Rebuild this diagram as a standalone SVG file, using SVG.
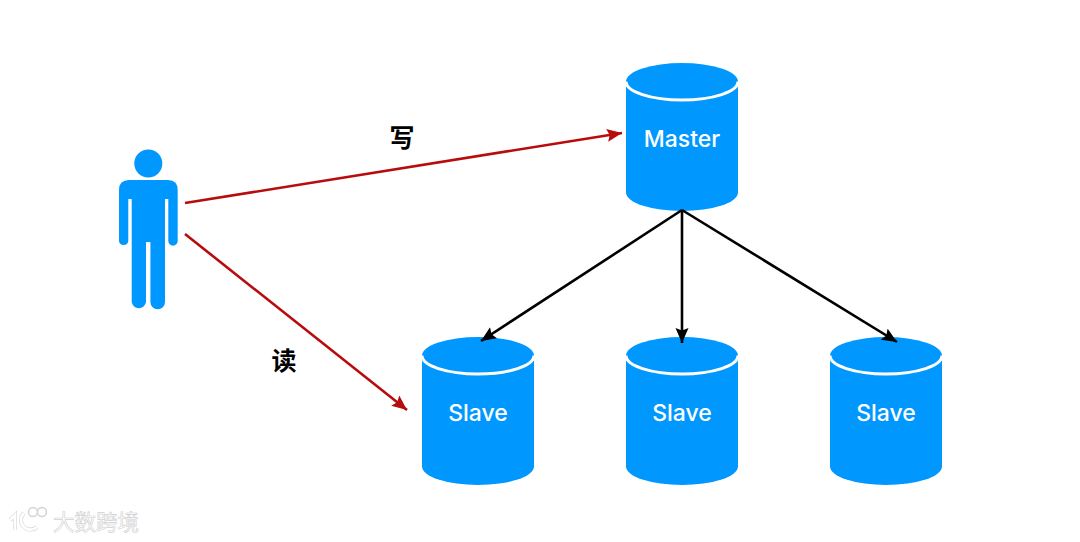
<svg xmlns="http://www.w3.org/2000/svg" width="1080" height="542" viewBox="0 0 1080 542">
<style>
.db{fill:#0098ff}
.rim{fill:none;stroke:#fff;stroke-width:3}
.lbl{font-family:"Inter","Liberation Sans",sans-serif;font-size:23px;font-weight:500;fill:#fff;text-anchor:middle}
.cjk{font-family:"Noto Sans CJK SC",sans-serif;font-size:25px;font-weight:700;fill:#000;text-anchor:middle}
.r{stroke:#b80c0c;stroke-width:2.6;fill:none}
.k{stroke:#000;stroke-width:2.6;fill:none}
.wm{font-family:"Noto Sans CJK SC",sans-serif;font-size:21.500px;font-weight:400;fill:#fff;stroke:#d0d0d0;stroke-width:.6;text-anchor:start}
</style>
<defs>
<marker id="ar" markerUnits="userSpaceOnUse" markerWidth="16" markerHeight="14" refX="15" refY="7" orient="auto"><path d="M0 .5L15 7L0 13.500L2.500 7Z" fill="#b80c0c"/></marker>
<marker id="ak" markerUnits="userSpaceOnUse" markerWidth="16" markerHeight="14" refX="15" refY="7" orient="auto"><path d="M0 .5L15 7L0 13.500L2.500 7Z" fill="#000"/></marker>
<g id="cyl">
<path class="db" d="M0 18A56 18.500 0 0 1 112 18V129A56 18.500 0 0 1 0 129Z"/>
<path class="rim" d="M0 18A56 18.500 0 0 0 112 18"/>
</g>
</defs>
<g id="user">
<circle class="db" cx="148.300" cy="163.500" r="14"/>
<path class="db" d="M129 180H168Q177.700 180 177.700 190V241A4.700 4.700 0 0 1 168.300 241V199H165V302A7.300 7.300 0 0 1 150.400 302V242H146V302A7.200 7.200 0 0 1 131.700 302V199H128.300V241A4.700 4.700 0 0 1 119 241V190Q119 180 129 180Z"/>
</g>
<g id="master"><use href="#cyl" x="626" y="63.500"/><text class="lbl" x="682" y="147">Master</text></g>
<g id="slave1"><use href="#cyl" x="422" y="337.500"/><text class="lbl" x="478" y="421">Slave</text></g>
<g id="slave2"><use href="#cyl" x="626" y="337.500"/><text class="lbl" x="682" y="421">Slave</text></g>
<g id="slave3"><use href="#cyl" x="830" y="337.500"/><text class="lbl" x="886" y="421">Slave</text></g>
<g id="connectors">
<line class="r" x1="185" y1="203" x2="622" y2="133" marker-end="url(#ar)"/>
<line class="r" x1="185" y1="234" x2="407" y2="410" marker-end="url(#ar)"/>
<line class="k" x1="682" y1="210" x2="481" y2="341" marker-end="url(#ak)"/>
<line class="k" x1="682" y1="210" x2="682" y2="343" marker-end="url(#ak)"/>
<line class="k" x1="682" y1="210" x2="897" y2="342" marker-end="url(#ak)"/>
</g>
<text class="cjk" x="402" y="147">写</text>
<text class="cjk" x="284" y="370">读</text>
<g id="watermark">
<path d="M10 520L15 515V530M24 513A9.500 9.500 0 1 0 37 527" fill="none" stroke="#d4d4d4" stroke-width="4"/>
<path d="M10 520L15 515V530M24 513A9.500 9.500 0 1 0 37 527" fill="none" stroke="#fff" stroke-width="2.800"/>
<circle cx="33" cy="512" r="4.500" fill="#fff" stroke="#d4d4d4" stroke-width="1.500"/>
<circle cx="42" cy="512" r="4.500" fill="#fff" stroke="#d4d4d4" stroke-width="1.500"/>
<text class="wm" x="53" y="530">大数跨境</text>
</g>
</svg>
